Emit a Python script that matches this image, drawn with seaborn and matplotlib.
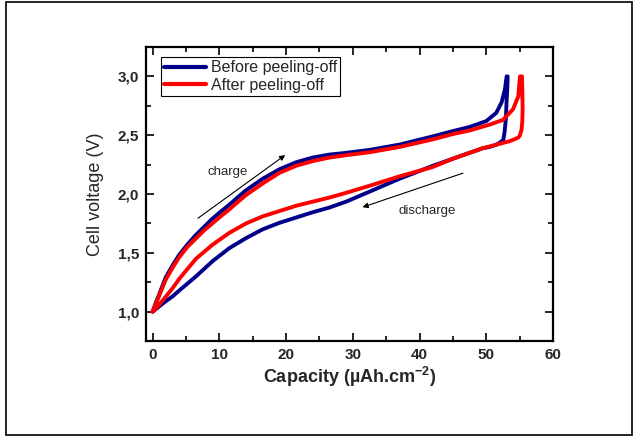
import pandas
import matplotlib
matplotlib.use("Agg")
import matplotlib.pyplot as plt
from matplotlib.lines import Line2D
from matplotlib.patches import Rectangle
from matplotlib.ticker import MultipleLocator, FuncFormatter
import seaborn

# values
before_charge_x = [0, 0.5, 1.0, 1.95, 2.95, 3.95, 5.2, 6.45, 7.7, 8.95, 10.2, 11.5, 13.95, 16.5,
                   19.0, 21.5, 24.0, 26.5, 29.0, 32.5, 37.0, 42.0, 45.0, 47.5, 50.0, 51.5, 52.3,
                   52.8, 53.05]
before_charge_y = [1.0, 1.08, 1.15, 1.29, 1.39, 1.48, 1.57, 1.65, 1.72, 1.79, 1.85, 1.91, 2.03, 2.13,
                   2.21, 2.27, 2.31, 2.335, 2.35, 2.375, 2.42, 2.49, 2.535, 2.57, 2.62, 2.69, 2.78,
                   2.89, 3.0]
before_discharge_x = [53.2, 53.15, 53.05, 52.95, 52.75, 52.55, 52.1, 51.55, 50.5, 49.5, 47.5, 45,
                      42, 37, 32.5, 29, 26.5, 24, 21.5, 19, 16.5, 14, 11.5, 9.0, 6.5, 4.0, 3.0,
                      2.0, 1.0, 0]
before_discharge_y = [3.0, 2.9, 2.8, 2.65, 2.53, 2.46, 2.44, 2.42, 2.40, 2.39, 2.35, 2.30,
                      2.24, 2.13, 2.02, 1.935, 1.885, 1.845, 1.80, 1.755, 1.70, 1.625, 1.54, 1.43,
                      1.30, 1.18, 1.13, 1.09, 1.045, 1.0]

after_charge_x = [0, 0.5, 1.0, 1.95, 2.95, 3.95, 5.2, 6.45, 7.7, 8.95, 10.2, 11.5, 13.95, 16.5,
                  19.0, 21.5, 24.0, 26.5, 29.0, 32.5, 37.0, 42.0, 45.0, 47.5, 50.5, 52.5, 54.0,
                  54.8, 55.05]
after_charge_y = [1.0, 1.07, 1.14, 1.27, 1.37, 1.46, 1.55, 1.62, 1.69, 1.75, 1.81, 1.87, 1.99, 2.09,
                  2.18, 2.24, 2.28, 2.31, 2.33, 2.355, 2.40, 2.465, 2.51, 2.54, 2.59, 2.63, 2.72,
                  2.83, 3.0]
after_discharge_x = [55.35, 55.4, 55.45, 55.4, 55.3, 55.05, 54.8, 54.2, 53.55, 51.55, 49.5, 47.5,
                     45, 42, 37, 32.5, 29, 26.5, 24, 21.5, 19, 16.5, 14, 11.5, 9.0, 6.5, 4.0,
                     3.0, 2.0, 1.0, 0]
after_discharge_y = [3.0, 2.88, 2.72, 2.62, 2.55, 2.50, 2.48, 2.465, 2.45, 2.42, 2.39, 2.35,
                     2.30, 2.23, 2.15, 2.07, 2.01, 1.97, 1.935, 1.90, 1.855, 1.81, 1.75, 1.67, 1.57,
                     1.45, 1.28, 1.20, 1.13, 1.06, 1.0]

labels = ["Before peeling-off", "After peeling-off"]
colors = {"Before peeling-off": "#00008B", "After peeling-off": "#FF0000"}


def loop_frame(label, cx, cy, dx, dy):
    df = pandas.DataFrame({"capacity": cx + dx, "voltage": cy + dy})
    df["sample"] = label
    return df


df = pandas.concat([
    loop_frame(labels[0], before_charge_x, before_charge_y, before_discharge_x, before_discharge_y),
    loop_frame(labels[1], after_charge_x, after_charge_y, after_discharge_x, after_discharge_y),
], ignore_index=True)

seaborn.set_theme(style="ticks")
plt.rcParams['font.family'] = ['Liberation Sans', 'DejaVu Sans']
plt.rcParams['mathtext.fontset'] = 'custom'
plt.rcParams['mathtext.rm'] = 'Liberation Sans'
plt.rcParams['mathtext.bf'] = 'Liberation Sans:bold'

f = plt.figure(figsize=(6.38, 4.37), dpi=100)
f.patches.append(Rectangle((6 / 638, 2 / 437), 626 / 638, 433 / 437, transform=f.transFigure,
                           fill=False, edgecolor='black', linewidth=1.2))
ax = f.add_axes([146 / 638, 1 - 341 / 437, 407 / 638, 294 / 437])

seaborn.lineplot(data=df, x="capacity", y="voltage", hue="sample", hue_order=labels,
                 palette=colors, sort=False, estimator=None, linewidth=2.8,
                 solid_joinstyle='round', solid_capstyle='round',
                 legend=False, ax=ax)

ax.set_xlim(-1, 60)
ax.set_ylim(0.75, 3.25)
ax.xaxis.set_major_locator(MultipleLocator(10))
ax.xaxis.set_minor_locator(MultipleLocator(5))
ax.yaxis.set_major_locator(MultipleLocator(0.5))
ax.yaxis.set_minor_locator(MultipleLocator(0.25))
ax.yaxis.set_major_formatter(FuncFormatter(lambda v, p: f"{v:.1f}".replace(".", ",")))
ax.tick_params(which='both', direction='in', top=True, right=True, width=1.2, color='black')
ax.tick_params(which='major', length=5.5, labelsize=11, pad=5)
ax.tick_params(which='minor', length=3.5)
for lab in ax.get_xticklabels() + ax.get_yticklabels():
    lab.set_fontweight('bold')
for s in ax.spines.values():
    s.set_linewidth(1.6)
    s.set_color('black')

ax.set_xlabel(r'Capacity (µAh.cm$^{\mathbf{-2}}$)', fontsize=13, fontweight='bold', labelpad=2)
ax.set_ylabel('Cell voltage (V)', fontsize=13, labelpad=10)

ax.annotate('', xy=(20.2, 2.345), xytext=(6.45, 1.78),
            arrowprops=dict(arrowstyle='-|>', color='black', lw=0.8, mutation_scale=8))
ax.text(11.2, 2.19, 'charge', fontsize=9.5, ha='center', va='center')
ax.annotate('', xy=(31.05, 1.88), xytext=(46.9, 2.185),
            arrowprops=dict(arrowstyle='-|>', color='black', lw=0.8, mutation_scale=8))
ax.text(41.2, 1.854, 'discharge', fontsize=9.5, ha='center', va='center')

handles = [Line2D([], [], color=colors[l], linewidth=3) for l in labels]
ax.legend(handles, labels, loc='upper left', bbox_to_anchor=(0.037, 0.966), fontsize=11.5,
          frameon=True, fancybox=False, edgecolor='black', framealpha=1,
          handlelength=2.6, handletextpad=0.3, borderpad=0.2, labelspacing=0.15,
          borderaxespad=0)
ax.get_legend().get_frame().set_linewidth(0.8)

f.savefig('out.png', dpi=100)
plt.close()
